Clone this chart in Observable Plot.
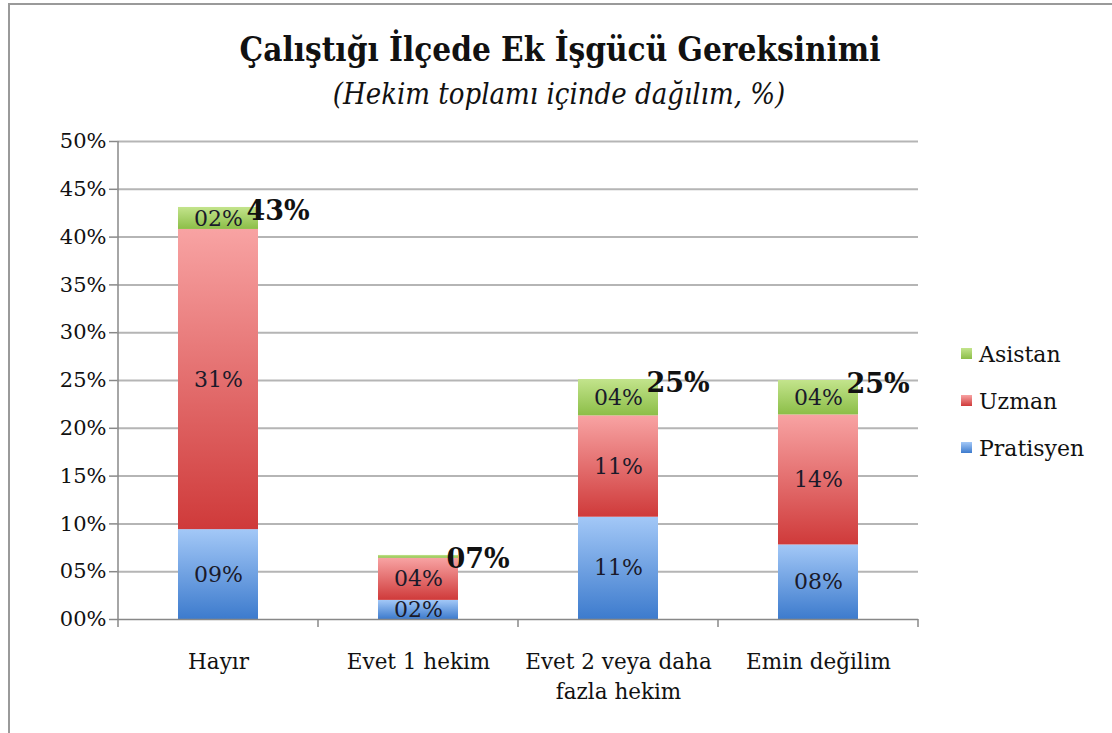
<!DOCTYPE html>
<html>
<head>
<meta charset="utf-8">
<script src="https://cdn.jsdelivr.net/npm/d3@7"></script>
<script src="https://cdn.jsdelivr.net/npm/@observablehq/plot@0.6"></script>
<style>
  html, body { margin: 0; padding: 0; background: #fff; }
  #frame { position: relative; width: 1112px; height: 733px; overflow: hidden; }
  #border { position: absolute; left: 8px; top: 3px; right: -4px; bottom: -4px; border-top: 2px solid #9a9a9a; border-left: 2px solid #9a9a9a; }
  #header { position: absolute; left: 0; top: 0; width: 1112px; height: 125px; text-align: center; }
  #title { position: absolute; left: 4px; width: 1112px; top: 30px; font-family: "DejaVu Serif Condensed", "DejaVu Serif", serif; font-weight: bold; font-size: 33px; color: #111; font-stretch: condensed; }
  #subtitle { position: absolute; left: 3px; width: 1112px; top: 77px; font-family: "DejaVu Serif Condensed", "DejaVu Serif", serif; font-style: italic; font-size: 29px; color: #111; font-stretch: condensed; }
  #chart { position: absolute; left: 0; top: 125px; }
  #legend { position: absolute; left: 961px; top: 331px; font-family: "DejaVu Serif", serif; font-size: 22px; color: #111; }
  .li { height: 47px; display: flex; align-items: center; }
  .sw { width: 11px; height: 11px; margin-right: 7px; margin-top: -3px; }
</style>
</head>
<body>
<div id="frame">
  <div id="border"></div>
  <div id="header">
    <div id="title">Çalıştığı İlçede Ek İşgücü Gereksinimi</div>
    <div id="subtitle">(Hekim toplamı içinde dağılım, %)</div>
  </div>
  <div id="chart"></div>
  <div id="legend"></div>
</div>
<script>
const categories = ["Hayır", "Evet 1 hekim", "Evet 2 veya daha\nfazla hekim", "Emin değilim"];
const series = ["Pratisyen", "Uzman", "Asistan"];
const pratisyen = [9.4, 2.0, 10.7, 7.8];
const uzman = [31.4, 4.4, 10.6, 13.6];
const asistan = [2.3, 0.3, 3.8, 3.6];
const yTicks = [0, 5, 10, 15, 20, 25, 30, 35, 40, 45, 50];

const seriesValues = {Pratisyen: pratisyen, Uzman: uzman, Asistan: asistan};
const gradients = {
  Pratisyen: ["#a3c8f7", "#3d7bcd"],
  Uzman: ["#f8a3a3", "#cf3a3a"],
  Asistan: ["#c3e48c", "#8cbe48"]
};
const gid = {Pratisyen: "gPrat", Uzman: "gUzm", Asistan: "gAsis"};

const rows = [];
series.forEach(s => categories.forEach((c, i) => rows.push({category: c, series: s, value: seriesValues[s][i]})));
const totals = categories.map((c, i) => ({category: c, total: pratisyen[i] + uzman[i] + asistan[i]}));

const pad2 = v => String(Math.round(v)).padStart(2, "0") + "%";
const serif = "DejaVu Serif, serif";

const plot = Plot.plot({
  width: 1112,
  height: 608,
  marginTop: 16,
  marginBottom: 114,
  marginLeft: 117,
  marginRight: 194,
  style: {fontFamily: serif, fontSize: "21px", color: "#111", background: "transparent"},
  x: {domain: categories, paddingInner: 0.6, paddingOuter: 0.3, label: null},
  y: {domain: [0, 50], label: null},
  color: {domain: series, range: series.map(s => `url(#${gid[s]})`)},
  marks: [
    Plot.gridY(yTicks.filter(d => d > 0), {stroke: "#b5b5b5", strokeOpacity: 1, strokeWidth: 2}),
    Plot.axisY({ticks: yTicks, tickFormat: pad2, tickSize: 8, stroke: "#888", strokeWidth: 1.5, fontSize: 21, tickPadding: 3, fill: "#111"}),
    Plot.axisX({tickSize: 0, tickPadding: 28, fontSize: 21.5, lineHeight: 1.4, fill: "#111"}),
    Plot.barY(rows, Plot.stackY({x: "category", y: "value", fill: "series", order: series})),
    Plot.text(rows.filter(d => d.value >= 1), Plot.stackY({x: "category", y: "value", z: "series", order: series, text: d => pad2(d.value), fill: "#1a1a2a", fontSize: 22})),
    Plot.text(totals, {x: "category", y: "total", text: d => pad2(d.total), textAnchor: "start", dx: 28, dy: 4, fontSize: 27, fontWeight: "bold", fill: "#111"}),
    Plot.ruleY([0], {stroke: "#888", strokeWidth: 1.5})
  ]
});

// gradients
const svg = d3.select(plot);
const defs = svg.insert("defs", ":first-child");
series.forEach(s => {
  const g = defs.append("linearGradient").attr("id", gid[s]).attr("x1", 0).attr("y1", 0).attr("x2", 0).attr("y2", 1);
  g.append("stop").attr("offset", "0%").attr("stop-color", gradients[s][0]);
  g.append("stop").attr("offset", "100%").attr("stop-color", gradients[s][1]);
});

// y-axis line and x-axis boundary ticks derived from scales
const xs = plot.scale("x"), ys = plot.scale("y");
const step = xs.step;
const left = xs.apply(categories[0]) - (step - xs.bandwidth) / 2;
const y0 = ys.apply(0), y50 = ys.apply(50);
const ax = svg.append("g").attr("stroke", "#888").attr("stroke-width", 1.5);
ax.append("line").attr("x1", left).attr("x2", left).attr("y1", y50).attr("y2", y0);
for (let i = 0; i <= categories.length; i++) {
  const x = left + i * step;
  ax.append("line").attr("x1", x).attr("x2", x).attr("y1", y0).attr("y2", y0 + 8);
}

document.getElementById("chart").appendChild(plot);

// legend
const legend = document.getElementById("legend");
series.slice().reverse().forEach(s => {
  const row = document.createElement("div");
  row.className = "li";
  const sw = document.createElement("div");
  sw.className = "sw";
  sw.style.background = `linear-gradient(${gradients[s][0]}, ${gradients[s][1]})`;
  const t = document.createElement("span");
  t.textContent = s;
  row.appendChild(sw); row.appendChild(t);
  legend.appendChild(row);
});
</script>
</body>
</html>
